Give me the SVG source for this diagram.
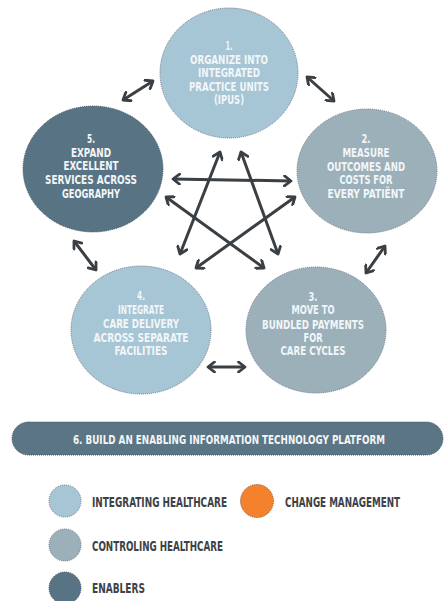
<svg xmlns="http://www.w3.org/2000/svg" width="444" height="601" viewBox="0 0 444 601">
<style>
.node-a{fill:#a6c5d5;stroke:#6d7b84;stroke-width:1;stroke-dasharray:1 1}
.node-b{fill:#9cb0b9;stroke:#6d7b84;stroke-width:1;stroke-dasharray:1 1}
.node-c{fill:#587384;stroke:#4a5963;stroke-width:1;stroke-dasharray:1 1}
.node-o{fill:#f4822c;stroke:#8a5a3a;stroke-width:1;stroke-dasharray:1 1}
.t{font-family:"Liberation Sans Narrow","DejaVu Sans Condensed","Liberation Sans",sans-serif;font-weight:bold;font-size:12px;fill:#f2f6f8;text-anchor:middle}
.lg{font-family:"Liberation Sans Narrow","DejaVu Sans Condensed","Liberation Sans",sans-serif;font-weight:bold;font-size:13.5px;fill:#3c4247}
.arr{stroke:#3a3f44;stroke-width:3;fill:none;marker-start:url(#ah);marker-end:url(#ah)}
</style>
<defs>
<marker id="ah" viewBox="0 0 10 12" refX="8" refY="6" markerWidth="10" markerHeight="12" markerUnits="userSpaceOnUse" orient="auto-start-reverse">
<path d="M1.5,1 L8,6 L1.5,11" fill="none" stroke="#3a3f44" stroke-width="2.8" stroke-linecap="round" stroke-linejoin="round"/>
</marker>
</defs>
<rect width="444" height="601" fill="#ffffff"/>

<g id="connectors">
<line class="arr" x1="123" y1="100" x2="153" y2="81"/>
<line class="arr" x1="307" y1="77" x2="334" y2="101"/>
<line class="arr" x1="385" y1="246" x2="366" y2="273"/>
<line class="arr" x1="208" y1="367" x2="245" y2="367"/>
<line class="arr" x1="74" y1="241" x2="96" y2="270"/>
<line class="arr" x1="220" y1="152" x2="180" y2="254"/>
<line class="arr" x1="241" y1="152" x2="278" y2="254"/>
<line class="arr" x1="173" y1="179" x2="291" y2="181"/>
<line class="arr" x1="166" y1="197" x2="264" y2="268"/>
<line class="arr" x1="295" y1="197" x2="196" y2="268"/>
</g>

<g id="node1">
<ellipse class="node-a" cx="229" cy="73" rx="69" ry="65"/>
<text class="t" x="229" y="50" textLength="7" lengthAdjust="spacingAndGlyphs">1.</text>
<text class="t" x="229" y="64" textLength="78" lengthAdjust="spacingAndGlyphs">ORGANIZE INTO</text>
<text class="t" x="229" y="77" textLength="62" lengthAdjust="spacingAndGlyphs">INTEGRATED</text>
<text class="t" x="229" y="91" textLength="80" lengthAdjust="spacingAndGlyphs">PRACTICE UNITS</text>
<text class="t" x="229" y="104" textLength="30" lengthAdjust="spacingAndGlyphs">(IPUS)</text>
</g>

<g id="node2">
<ellipse class="node-b" cx="367" cy="171" rx="70" ry="62"/>
<text class="t" x="366" y="143" textLength="9" lengthAdjust="spacingAndGlyphs">2.</text>
<text class="t" x="366" y="157" textLength="47" lengthAdjust="spacingAndGlyphs">MEASURE</text>
<text class="t" x="366" y="171" textLength="78" lengthAdjust="spacingAndGlyphs">OUTCOMES AND</text>
<text class="t" x="366" y="184" textLength="53" lengthAdjust="spacingAndGlyphs">COSTS FOR</text>
<text class="t" x="366" y="198" textLength="77" lengthAdjust="spacingAndGlyphs">EVERY PATIËNT</text>
</g>

<g id="node3">
<ellipse class="node-b" cx="316" cy="330" rx="70" ry="63"/>
<text class="t" x="313" y="301" textLength="9" lengthAdjust="spacingAndGlyphs">3.</text>
<text class="t" x="313" y="314" textLength="43" lengthAdjust="spacingAndGlyphs">MOVE TO</text>
<text class="t" x="313" y="329" textLength="102" lengthAdjust="spacingAndGlyphs">BUNDLED PAYMENTS</text>
<text class="t" x="313" y="342" textLength="19" lengthAdjust="spacingAndGlyphs">FOR</text>
<text class="t" x="313" y="355" textLength="65" lengthAdjust="spacingAndGlyphs">CARE CYCLES</text>
</g>

<g id="node4">
<ellipse class="node-a" cx="141" cy="330" rx="70" ry="64"/>
<text class="t" x="141" y="300" textLength="8" lengthAdjust="spacingAndGlyphs">4.</text>
<text class="t" x="141" y="314" textLength="46" lengthAdjust="spacingAndGlyphs">INTEGRATE</text>
<text class="t" x="141" y="328" textLength="76" lengthAdjust="spacingAndGlyphs">CARE DELIVERY</text>
<text class="t" x="141" y="342" textLength="95" lengthAdjust="spacingAndGlyphs">ACROSS SEPARATE</text>
<text class="t" x="141" y="355" textLength="53" lengthAdjust="spacingAndGlyphs">FACILITIES</text>
</g>

<g id="node5">
<ellipse class="node-c" cx="93" cy="169" rx="70" ry="63"/>
<text class="t" x="91" y="143" textLength="8" lengthAdjust="spacingAndGlyphs">5.</text>
<text class="t" x="91" y="157" textLength="40" lengthAdjust="spacingAndGlyphs">EXPAND</text>
<text class="t" x="91" y="170" textLength="55" lengthAdjust="spacingAndGlyphs">EXCELLENT</text>
<text class="t" x="91" y="184" textLength="92" lengthAdjust="spacingAndGlyphs">SERVICES ACROSS</text>
<text class="t" x="91" y="198" textLength="58" lengthAdjust="spacingAndGlyphs">GEOGRAPHY</text>
</g>

<g id="node6">
<rect x="12" y="422" width="431" height="33" rx="16.5" ry="16.5" fill="#5b7585" stroke="#4a5963" stroke-width="1" stroke-dasharray="1 1"/>
<text class="t" transform="translate(73,444) scale(0.8,1)" x="0" y="0" font-size="13" style="text-anchor:start" textLength="390" lengthAdjust="spacingAndGlyphs">6. BUILD AN ENABLING INFORMATION TECHNOLOGY PLATFORM</text>
</g>

<g id="legend">
<g id="legend-integrating">
<circle class="node-a" cx="65" cy="501" r="16"/>
<text class="lg" x="92" y="507" textLength="135" lengthAdjust="spacingAndGlyphs">INTEGRATING HEALTHCARE</text>
</g>
<g id="legend-change">
<circle class="node-o" cx="257" cy="501" r="16.5"/>
<text class="lg" x="285" y="507" textLength="115" lengthAdjust="spacingAndGlyphs">CHANGE MANAGEMENT</text>
</g>
<g id="legend-controling">
<circle class="node-b" cx="65" cy="545" r="16"/>
<text class="lg" x="92" y="551" textLength="131" lengthAdjust="spacingAndGlyphs">CONTROLING HEALTHCARE</text>
</g>
<g id="legend-enablers">
<circle class="node-c" cx="65" cy="588" r="16"/>
<text class="lg" x="92" y="593" textLength="53" lengthAdjust="spacingAndGlyphs">ENABLERS</text>
</g>
</g>
</svg>
